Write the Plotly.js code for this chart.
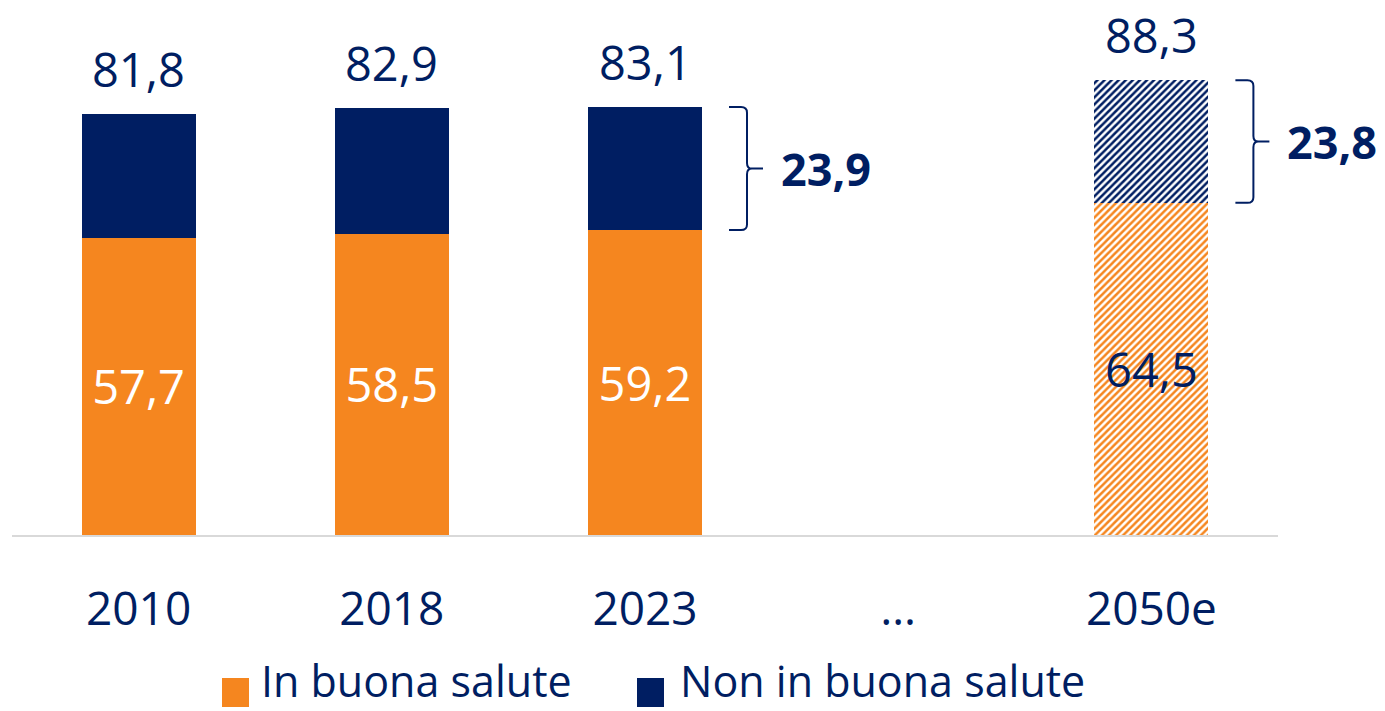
<!DOCTYPE html>
<html>
<head>
<meta charset="utf-8">
<script src="https://cdn.plot.ly/plotly-3.0.1.min.js"></script>
<style>html,body{margin:0;padding:0;background:#fff;}#chart{width:1385px;height:711px;}</style>
</head>
<body>
<div id="chart"></div>
<script>
const categories = ['2010', '2018', '2023', '…', '2050e'];
const inBuonaSalute = [57.7, 58.5, 59.2, null, 64.5];
const nonInBuonaSalute = [24.1, 24.4, 23.9, null, 23.8];
const totali = [81.8, 82.9, 83.1, null, 88.3];
const bracketIndex = [2, 4];
const seriesNames = ['In buona salute', 'Non in buona salute'];
const estimated = [false, false, false, false, true];

const ORANGE = '#F5861F';
const NAVY = '#001E62';
const FONT = '"Open Sans", "Noto Sans", sans-serif';

const fmt = v => v == null ? '' : v.toFixed(1).replace('.', ',');
const patShape = estimated.map(e => e ? '/' : '');

const traceHealthy = {
  type: 'bar', name: seriesNames[0], x: categories, y: inBuonaSalute,
  marker: {color: ORANGE, line: {width: 0},
    pattern: {shape: patShape, fillmode: 'replace', fgcolor: ORANGE, bgcolor: '#ffffff', size: 5, solidity: 0.5}},
  text: inBuonaSalute.map(fmt), textposition: 'inside', insidetextanchor: 'middle',
  textfont: {family: FONT, size: 47, color: estimated.map(e => e ? NAVY : '#ffffff')},
  hoverinfo: 'skip', showlegend: false
};
const traceNot = {
  type: 'bar', name: seriesNames[1], x: categories, y: nonInBuonaSalute,
  marker: {color: NAVY, line: {width: 0},
    pattern: {shape: patShape, fillmode: 'replace', fgcolor: NAVY, bgcolor: '#ffffff', size: 5, solidity: 0.5}},
  hoverinfo: 'skip', showlegend: false
};

const PW = 1266, ML = 12, PH = 515;
const N = categories.length;
const xp = (i, px) => (i + 0.5) / N + px / PW;

const annotations = [];
const shapes = [];
totali.forEach((t, i) => {
  if (t == null) return;
  annotations.push({x: xp(i, 0), y: t, xref: 'paper', yref: 'y', text: fmt(t), showarrow: false,
    xanchor: 'center', yanchor: 'bottom', yshift: 11, font: {family: FONT, size: 47, color: NAVY}});
});
bracketIndex.forEach(i => {
  const yT = totali[i], yB = inBuonaSalute[i], yM = (yT + yB) / 2;
  const x0 = xp(i, 84), x1 = xp(i, 102), x2 = xp(i, 118), r = 6 / PW, r2 = 5 / PW, ry = 1.1;
  const path = `M${x0},${yT} L${x1 - r},${yT} Q${x1},${yT} ${x1},${yT - ry} ` +
    `L${x1},${yM + ry} Q${x1},${yM} ${x1 + r2},${yM} L${x2},${yM} ` +
    `M${x1 + r2},${yM} Q${x1},${yM} ${x1},${yM - ry} L${x1},${yB + ry} Q${x1},${yB} ${x1 - r},${yB} L${x0},${yB}`;
  shapes.push({type: 'path', xref: 'paper', yref: 'y', path: path, line: {color: NAVY, width: 2}});
  annotations.push({x: xp(i, 134), y: yM, xref: 'paper', yref: 'y', text: '<b>' + fmt(nonInBuonaSalute[i]) + '</b>',
    showarrow: false, xanchor: 'left', yanchor: 'middle', font: {family: FONT, size: 45, color: NAVY}});
});

// custom legend
const legendItems = [
  {name: seriesNames[0], color: ORANGE, sx: 222, tx: 260},
  {name: seriesNames[1], color: NAVY, sx: 637, tx: 679}
];
legendItems.forEach(it => {
  shapes.push({type: 'rect', xref: 'paper', yref: 'paper',
    x0: (it.sx - ML) / PW, x1: (it.sx + 27 - ML) / PW,
    y0: -(707 - 535) / PH, y1: -(678 - 535) / PH,
    fillcolor: it.color, line: {width: 0}});
  annotations.push({x: (it.tx - ML) / PW, y: -(711 - 535) / PH, xref: 'paper', yref: 'paper',
    text: it.name, showarrow: false, xanchor: 'left', yanchor: 'bottom', borderpad: 0,
    font: {family: FONT, size: 43, color: NAVY}});
});

const layout = {
  width: 1385, height: 711,
  margin: {l: ML, r: 1385 - ML - PW, t: 20, b: 176, pad: 0},
  paper_bgcolor: '#ffffff', plot_bgcolor: '#ffffff',
  barmode: 'stack', bargap: 0.55,
  showlegend: false,
  xaxis: {type: 'category', range: [-0.5, N - 0.5], showline: true, linecolor: '#D9D9D9', linewidth: 2,
    ticks: '', showgrid: false, zeroline: false, ticklabelstandoff: 33,
    tickfont: {family: FONT, size: 46, color: NAVY}},
  yaxis: {range: [0, 100], visible: false, showgrid: false, zeroline: false},
  font: {family: FONT, color: NAVY},
  shapes: shapes, annotations: annotations
};

Plotly.newPlot('chart', [traceHealthy, traceNot], layout, {displayModeBar: false, staticPlot: true});
</script>
</body>
</html>
